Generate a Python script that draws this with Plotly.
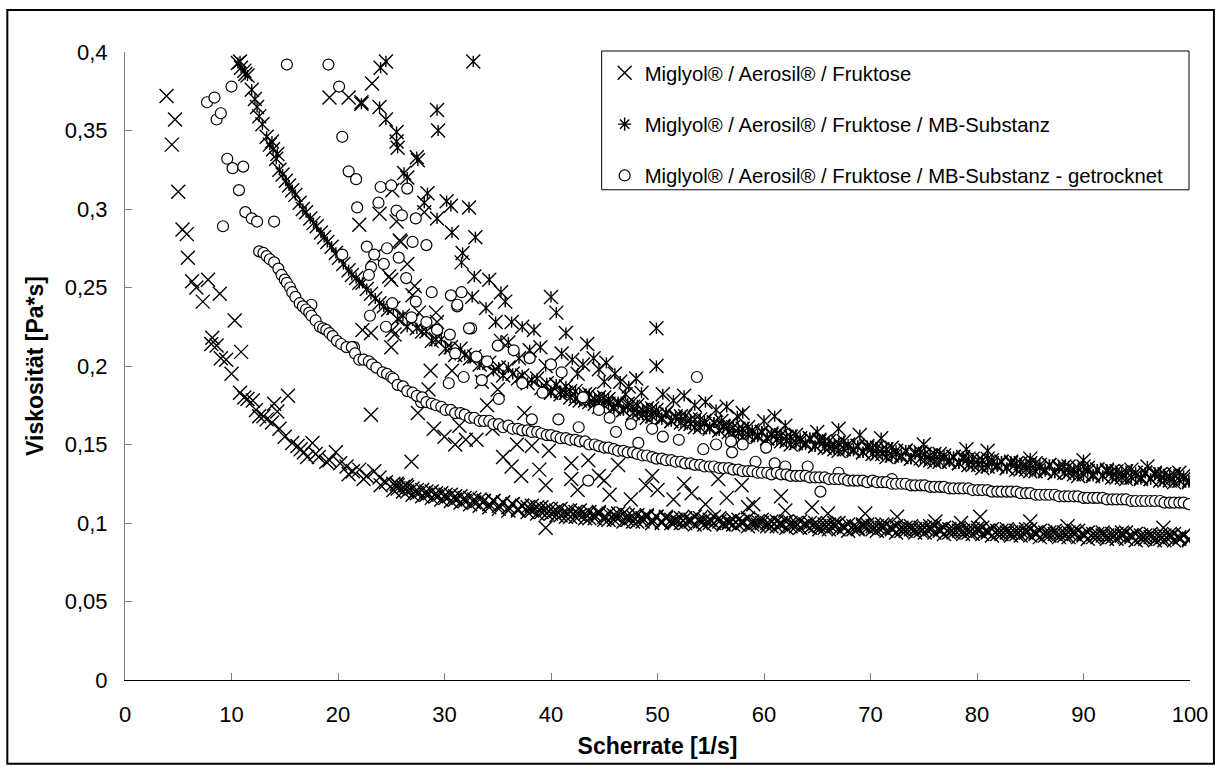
import plotly.graph_objects as go

# ---------------- data ----------------
# shared shear-rate grid of the dense parts (1/s)
grid_x = [25.2, 25.6, 26.1, 26.5, 27.0, 27.4, 27.9, 28.3, 28.8, 29.2,
          29.7, 30.1, 30.6, 31.0, 31.5, 31.9, 32.4, 32.8, 33.3, 33.7,
          34.2, 34.6, 35.1, 35.5, 36.0, 36.4, 36.9, 37.3, 37.8, 38.2,
          38.7, 39.1, 39.6, 40.0, 40.5, 40.9, 41.4, 41.8, 42.3, 42.7,
          43.2, 43.6, 44.1, 44.5, 45.0, 45.4, 45.9, 46.3, 46.8, 47.2,
          47.7, 48.1, 48.6, 49.0, 49.5, 49.9, 50.4, 50.8, 51.3, 51.7,
          52.2, 52.6, 53.1, 53.5, 54.0, 54.4, 54.9, 55.3, 55.8, 56.2,
          56.7, 57.1, 57.6, 58.0, 58.5, 58.9, 59.4, 59.8, 60.3, 60.7,
          61.2, 61.6, 62.1, 62.5, 63.0, 63.4, 63.9, 64.3, 64.8, 65.2,
          65.7, 66.1, 66.6, 67.0, 67.5, 67.9, 68.4, 68.8, 69.3, 69.7,
          70.2, 70.6, 71.1, 71.5, 72.0, 72.4, 72.9, 73.3, 73.8, 74.2,
          74.7, 75.1, 75.6, 76.0, 76.5, 76.9, 77.4, 77.8, 78.3, 78.7,
          79.2, 79.6, 80.1, 80.5, 81.0, 81.4, 81.9, 82.3, 82.8, 83.2,
          83.7, 84.1, 84.6, 85.0, 85.5, 85.9, 86.4, 86.8, 87.3, 87.7,
          88.2, 88.6, 89.1, 89.5, 90.0, 90.4, 90.9, 91.3, 91.8, 92.2,
          92.7, 93.1, 93.6, 94.0, 94.5, 94.9, 95.4, 95.8, 96.3, 96.7,
          97.2, 97.6, 98.1, 98.5, 99.0, 99.4, 99.9]
# return pass of the ramp (same shear rates)
s1_pass2_x = grid_x
s2_pass2_x = grid_x[33:]

# Series 1: Miglyol / Aerosil / Fruktose (x markers)
s1_band_y = [.125, .122, .123, .120, .122, .119, .121, .118, .120, .117,
             .119, .116, .118, .115, .117, .114, .116, .113, .115, .114,
             .112, .114, .111, .113, .110, .112, .109, .111, .110, .108,
             .110, .107, .109, .106, .108, .105, .107, .104, .107, .105,
             .106, .103, .105, .107, .104, .102, .105, .103, .106, .102,
             .104, .101, .103, .105, .102, .104, .101, .103, .100, .102,
             .103, .100, .102, .104, .101, .099, .102, .100, .103, .100,
             .101, .099, .102, .100, .098, .101, .099, .102, .100, .098,
             .101, .099, .097, .100, .098, .101, .099, .097, .100, .098,
             .099, .096, .098, .100, .097, .095, .098, .096, .099, .097,
             .098, .095, .097, .099, .096, .094, .097, .095, .098, .096,
             .097, .094, .096, .098, .095, .093, .096, .094, .097, .095,
             .096, .093, .095, .097, .094, .092, .095, .093, .096, .094,
             .095, .092, .094, .096, .093, .091, .094, .092, .095, .093,
             .094, .091, .093, .095, .092, .090, .093, .091, .094, .092,
             .093, .090, .092, .094, .091, .089, .092, .090, .093, .091,
             .092, .089, .091, .093, .090, .092, .089]
s1_band2_y = [.121, .124, .120, .123, .118, .121, .117, .120, .116, .119,
              .115, .118, .114, .117, .113, .116, .112, .115, .111, .114,
              .110, .114, .109, .113, .108, .112, .108, .111, .107, .111,
              .106, .110, .106, .109, .105, .109, .104, .108, .104, .108,
              .103, .107, .103, .106, .102, .106, .102, .106, .101, .105,
              .101, .105, .101, .104, .100, .104,
              .100, .104, .102, .101,
              .100, .103, .101, .099, .103, .102, .100, .104, .101, .099,
              .100, .102, .099, .101, .103, .099, .101, .100, .098, .101,
              .098, .100, .101, .098, .100, .097, .099, .100, .098, .096,
              .097, .099, .100, .096, .098, .099, .096, .097, .098, .099,
              .096, .098, .099, .095, .097, .098, .095, .097, .096, .094,
              .095, .097, .098, .094, .096, .097, .094, .096, .095, .093,
              .094, .096, .097, .093, .095, .096, .093, .095, .094, .092,
              .093, .095, .096, .092, .094, .095, .092, .094, .093, .091,
              .092, .094, .095, .091, .093, .094, .091, .093, .092, .090,
              .091, .093, .094, .090, .092, .093, .090, .092, .091, .089,
              .090, .092, .093, .089, .091, .092, .090, .091]
s1_scatter_x = [3.9, 4.4, 4.7, 5.0, 5.4, 5.8, 5.9, 6.3, 6.7, 7.3, 7.8, 8.9, 10.3, 8.2, 8.1,
                8.6, 9.5, 10.9, 10.0, 10.8, 11.5, 12.0, 12.6, 13.3, 14.0, 14.3, 15.3, 14.5,
                15.7, 16.2, 17.1, 17.6, 18.9, 19.8, 20.8, 22.0, 23.4, 24.5, 23.1, 13.0, 13.8,
                16.8, 18.2, 19.2, 20.2, 21.4, 22.7, 23.9, 12.3, 9.0, 11.2, 15.0, 16.5, 17.9,
                21.0, 22.4, 24.0, 25.5, 26.4,
                19.2, 21.0, 22.2, 23.2, 22.0, 23.9, 25.5, 25.8, 24.8, 23.4, 25.1, 25.9,
                28.1, 25.0, 27.2, 29.2, 29.3, 22.3, 23.1, 25.1, 25.3, 25.0, 27.6, 26.5, 27.0,
                28.7, 30.7, 31.4, 32.0, 33.0, 26.9, 30.0, 31.0, 29.0, 33.5, 35.0, 34.0, 36.3,
                38.9, 41.9, 44.5, 41.9, 39.5, 37.2, 46.3, 48.9, 53.2, 55.7, 57.9, 61.6, 38.2,
                39.8, 35.5, 36.8, 34.5, 37.5, 39.5, 42.5, 45.5, 47.5, 50.0, 51.5, 54.5, 56.5,
                59.0, 62.0, 64.5, 69.5, 76.1, 80.3, 85.0, 97.5, 43.5, 45.0, 49.5, 52.5, 58.5,
                66.0, 72.5, 78.5, 88.5, 27.5, 28.5]
s1_scatter_y = [.372, .341, .357, .311, .287, .284, .269, .254, .250, .241, .255, .246, .229, .218, .214,
                .213, .204, .209, .195, .183, .179, .178, .168, .166, .176, .171, .181, .160,
                .151, .149, .142, .151, .139, .145, .136, .134, .133, .126, .169, .168, .164,
                .145, .142, .140, .138, .133, .130, .129, .172, .205, .180, .155, .147, .144,
                .131, .128, .124, .125, .124,
                .371, .371, .368, .380, .290, .297, .292, .280, .257, .270, .312, .279,
                .298, .255, .251, .234, .228, .223, .221, .223, .220, .212, .234, .265, .245,
                .197, .197, .162, .153, .153, .139, .155, .150, .160, .190, .185, .175, .136,
                .134, .138, .130, .128, .124, .130, .137, .124, .119, .128, .124, .117, .149,
                .146, .142, .150, .160, .170, .097, .121, .118, .115, .121, .115, .112, .116,
                .112, .108, .110, .106, .101, .104, .101, .097, .140, .127, .130, .125, .110,
                .106, .104, .100, .098, .170, .185]

# Series 2: ... / MB-Substanz (star markers)
s2_start_x = [10.6, 10.9, 11.2, 11.5, 11.9, 12.2, 12.6, 12.9, 13.3, 13.6, 13.9, 14.2, 14.5,
              14.8, 15.1, 15.4, 15.7, 16.0, 16.4, 16.7, 17.0, 17.4, 17.7, 18.0, 18.4, 18.7,
              19.0, 19.4, 19.8, 20.1, 20.5, 21.0, 21.3, 21.7, 22.0, 22.3, 22.7, 23.1, 23.5,
              23.9, 24.3, 24.7, 10.8, 11.3, 12.4, 13.8, 14.3]
s2_start_y = [.393, .390, .388, .385, .376, .370, .359, .354, .346, .341, .338, .332, .325,
              .322, .318, .315, .312, .309, .304, .300, .298, .294, .291, .289, .285, .282,
              .279, .276, .272, .269, .265, .261, .258, .256, .253, .253, .249, .246, .243,
              .240, .238, .236, .394, .386, .365, .343, .335]
s2_band_y = [.237, .230, .232, .225, .229, .224, .222, .222, .216, .217,
             .217, .211, .212, .207, .211, .207, .205, .206, .201, .202,
             .202, .197, .199, .194, .199, .195, .192, .194, .189, .191,
             .192, .186, .189, .183, .188, .184, .183, .184, .179, .181,
             .182, .177, .179, .174, .180, .176, .174, .176, .172, .174,
             .174, .170, .172, .167, .173, .169, .167, .170, .165, .167,
             .168, .163, .166, .161, .166, .163, .161, .164, .159, .161,
             .162, .157, .160, .155, .161, .157, .156, .158, .154, .156,
             .157, .152, .155, .150, .156, .152, .151, .154, .149, .152,
             .152, .148, .150, .146, .152, .148, .147, .149, .145, .148,
             .148, .144, .147, .142, .148, .144, .143, .146, .141, .144,
             .145, .140, .143, .139, .144, .141, .140, .142, .138, .141,
             .141, .137, .140, .135, .141, .138, .137, .139, .135, .138,
             .138, .134, .137, .133, .138, .135, .134, .137, .132, .135,
             .136, .132, .134, .130, .136, .133, .131, .134, .130, .133,
             .133, .129, .132, .128, .134, .130, .129, .132, .128, .131,
             .131, .127, .130, .126, .132, .128, .127]
s2_band2_y = [.184, .188, .182, .187, .180, .184, .178,
              .178, .182, .176, .180, .175, .179, .173, .177, .172, .176,
              .170, .175, .169, .173, .168, .172,
              .166, .170, .165, .168,
              .164, .168, .163, .166, .161, .165, .160, .164, .159, .162,
              .158, .161, .157, .160, .156, .159, .155, .158, .154, .157,
              .153, .156, .152, .155, .151, .154, .150, .154, .149, .153,
              .148, .152, .147, .151, .147, .150, .146, .149, .145, .149,
              .144, .148, .144, .147, .143, .146, .142, .146, .141, .145,
              .141, .144, .140, .144, .139, .143, .139, .142, .138, .142,
              .137, .141, .137, .140, .136, .140, .136, .139, .135, .139,
              .134, .138, .134, .138, .133, .137, .133, .137, .132, .136,
              .132, .136, .131, .135, .131, .135, .130, .134, .130, .134,
              .129, .133, .129, .133, .129, .132, .128, .132, .128, .132,
              .127, .131, .127, .131, .127, .130, .126, .130]
s2_scatter_x = [24.0, 24.5, 23.9, 22.2, 24.5, 25.5, 25.5, 25.6, 29.3, 29.4, 32.7, 27.4, 27.5,
                26.2, 26.5, 28.4, 28.1, 30.2, 30.6, 32.3, 29.3, 30.7, 32.9, 31.7, 31.6, 32.8,
                34.2, 35.3, 35.7, 32.6, 33.9, 34.8, 36.3, 37.3, 35.3, 40.0, 40.5, 41.4, 38.4,
                49.9, 43.4, 49.9, 36.0, 38.0, 39.0, 41.0, 42.0, 43.0, 44.0, 44.5, 45.2, 46.0,
                46.5, 47.3, 48.0, 48.5, 50.5, 51.5, 52.5, 53.5, 54.5, 55.5, 56.5, 57.5, 58.0,
                37.0, 39.5, 42.5, 45.0, 47.0, 56.0, 62.0, 65.0, 67.0, 69.0, 71.0, 75.0, 79.0,
                81.0, 85.0, 90.0, 96.0, 60.0, 61.0]
s2_scatter_y = [.390, .394, .365, .367, .357, .349, .343, .339, .363, .350, .394, .333, .331,
                .323, .320, .310, .304, .305, .302, .301, .294, .285, .282, .272, .266, .257,
                .255, .247, .241, .244, .237, .228, .228, .225, .216, .244, .234, .221, .223,
                .224, .214, .200, .215, .210, .212, .208, .204, .201, .205, .198, .202, .195,
                .190, .187, .192, .183, .182, .178, .181, .175, .177, .172, .174, .168, .170,
                .205, .200, .195, .190, .182, .165, .162, .158, .160, .156, .154, .150, .147,
                .146, .141, .140, .136, .165, .168]

# Series 3: ... / MB-Substanz - getrocknet (open circles)
s3_start_x = [12.6, 13.0, 13.3, 13.6, 14.0, 14.4, 14.7, 15.0, 15.2, 15.5, 15.7, 16.0, 16.4,
              16.7, 17.0, 17.3, 17.5, 17.9, 18.3, 18.6, 18.9, 19.2, 19.5, 19.9, 20.3, 20.8,
              21.3, 21.6, 22.0, 22.4, 22.9, 23.2, 23.6, 24.2, 24.6, 25.0]
s3_start_y = [.273, .272, .270, .268, .266, .262, .258, .255, .253, .250, .247, .244, .240,
              .238, .236, .234, .232, .229, .225, .224, .223, .221, .219, .216, .214, .212,
              .212, .208, .204, .204, .203, .201, .199, .196, .195, .193]
s3_band_y = [.192, .188, .187, .184, .183, .181, .180, .177, .176, .175,
             .174, .172, .172, .170, .170, .169, .167, .167, .165, .165,
             .165, .163, .163, .161, .162, .160, .160, .159, .159, .158,
             .158, .157, .156, .156, .155, .154, .154, .153, .153, .152,
             .152, .150, .150, .149, .148, .148, .147, .146, .146, .145,
             .145, .144, .143, .143, .142, .141, .141, .140, .140, .139,
             .139, .138, .138, .137, .137, .136, .136, .136, .135, .135,
             .135, .134, .134, .133, .133, .133, .132, .132, .132, .131,
             .132, .131, .131, .130, .130, .130, .130, .129, .129, .129,
             .129, .128, .128, .128, .128, .127, .127, .127, .127, .126,
             .127, .126, .126, .126, .125, .125, .125, .125, .124, .124,
             .124, .124, .123, .123, .123, .123, .122, .122, .122, .122,
             .122, .121, .121, .121, .121, .120, .120, .120, .120, .120,
             .120, .119, .119, .119, .118, .118, .118, .118, .118, .117,
             .117, .117, .117, .117, .116, .116, .116, .116, .116, .115,
             .115, .115, .115, .115, .114, .114, .114, .114, .114, .114,
             .114, .113, .113, .113, .113, .113, .112]
s3_scatter_x = [15.2, 19.1, 20.1, 10.0, 7.7, 8.4, 8.6, 9.0, 20.4, 9.6, 10.1, 11.1, 10.7, 9.2,
                11.3, 11.9, 12.4, 14.0, 21.0, 21.7, 21.8, 23.8, 24.0, 25.0, 25.5, 24.6, 25.7,
                22.7, 23.4, 23.1, 22.9, 20.4, 26.5, 27.3, 27.0, 28.3, 26.4, 28.8, 30.6, 31.6,
                31.2, 27.3, 25.1, 26.9, 28.3, 29.3, 32.5, 21.5, 17.5, 32.3, 31.2, 53.7, 27.8,
                43.5, 60.2, 59.2, 62.0, 64.1, 65.3, 52.0, 56.9, 58.0, 54.3, 24.3, 26.0, 30.5,
                31.0, 33.0, 34.0, 35.0, 36.5, 38.0, 40.0, 41.0, 33.5, 30.4, 37.3, 35.1, 38.2,
                40.7, 42.6, 46.1, 48.2, 31.8, 39.2, 43.0, 44.5, 45.5, 47.5, 49.5, 50.5, 55.5,
                57.0, 61.0, 67.0, 72.0, 23.0, 24.5]
s3_scatter_y = [.392, .392, .378, .378, .368, .371, .357, .361, .346, .332, .326, .327, .312, .289,
                .298, .294, .292, .292, .324, .319, .301, .304, .314, .315, .299, .275, .269,
                .276, .271, .263, .258, .271, .313, .294, .279, .277, .256, .247, .245, .247,
                .238, .241, .240, .231, .228, .223, .224, .212, .239, .224, .239, .193, .177,
                .127, .148, .139, .136, .136, .120, .153, .152, .150, .147, .265, .296, .220,
                .208, .206, .203, .213, .210, .205, .201, .196, .191, .189, .189, .179, .166,
                .166, .161, .158, .151, .193, .183, .180, .172, .167, .163, .160, .155, .150,
                .145, .138, .132, .128, .232, .225]

names = ["Miglyol® / Aerosil® / Fruktose",
         "Miglyol® / Aerosil® / Fruktose / MB-Substanz",
         "Miglyol® / Aerosil® / Fruktose / MB-Substanz - getrocknet"]

x_ticks = [0, 10, 20, 30, 40, 50, 60, 70, 80, 90, 100]
y_ticks = [0, 0.05, 0.1, 0.15, 0.2, 0.25, 0.3, 0.35, 0.4]

# ---------------- figure ----------------
FONT = "Liberation Sans, Arial, sans-serif"
W, H = 1220, 767
L, R, T, B = 125, 27, 52, 86
PW, PH = W - L - R, H - T - B


def px_x(p):
    return (p - L) / PW


def px_y(p):
    return (H - B - p) / PH


s1x = s1_scatter_x + grid_x + s1_pass2_x
s1y = s1_scatter_y + s1_band_y + s1_band2_y
s2x = s2_start_x + s2_scatter_x + grid_x + s2_pass2_x
s2y = s2_start_y + s2_scatter_y + s2_band_y + s2_band2_y
s3x = s3_scatter_x + s3_start_x + grid_x
s3y = s3_scatter_y + s3_start_y + s3_band_y

LW = 1.4
fig = go.Figure()
fig.add_trace(go.Scatter(
    x=s1x, y=s1y, mode="markers", name=names[0], legendgroup="g1",
    marker=dict(symbol="x-thin-open", size=14, color="black",
                line=dict(color="black", width=LW))))
# legend entry of series 2 (star symbol)
fig.add_trace(go.Scatter(
    x=[None], y=[None], mode="markers", name=names[1], legendgroup="g2",
    marker=dict(symbol="asterisk-open", size=11, color="black",
                line=dict(color="black", width=LW))))
fig.add_trace(go.Scatter(
    x=s2x, y=s2y, mode="markers", showlegend=False, legendgroup="g2",
    marker=dict(symbol="x-thin-open", size=14, color="black",
                line=dict(color="black", width=LW))))
fig.add_trace(go.Scatter(
    x=s2x, y=s2y, mode="markers", showlegend=False, legendgroup="g2",
    marker=dict(symbol="line-ns-open", size=8, color="black",
                line=dict(color="black", width=LW))))
fig.add_trace(go.Scatter(
    x=s3x, y=s3y, mode="markers", name=names[2], legendgroup="g3",
    marker=dict(symbol="circle", size=11, color="white",
                line=dict(color="black", width=1.2))))

axis_common = dict(showgrid=False, zeroline=False, showline=True, ticks="inside",
                   ticklen=7, tickwidth=1, tickcolor="#808080",
                   tickfont=dict(family=FONT, size=22, color="black"))

fig.update_layout(
    width=W, height=H,
    margin=dict(l=L, r=R, t=T, b=B, pad=0),
    paper_bgcolor="white", plot_bgcolor="white",
    separators=", ",
    font=dict(family=FONT, color="black"),
    xaxis=dict(range=[0, 100], tickvals=x_ticks, linecolor="black", linewidth=1.3,
               ticklabelstandoff=14,
               title=dict(text="Scherrate [1/s]", standoff=12,
                          font=dict(family=FONT, size=23, weight="bold")),
               **axis_common),
    yaxis=dict(range=[0, 0.4], tickvals=y_ticks, linecolor="#808080", linewidth=1,
               ticklabelstandoff=12,
               title=dict(text="Viskosität [Pa*s]", standoff=14,
                          font=dict(family=FONT, size=23, weight="bold")),
               **axis_common),
    legend=dict(x=px_x(606), y=px_y(53), xanchor="left", yanchor="top",
                bgcolor="rgba(0,0,0,0)", borderwidth=0,
                font=dict(family=FONT, size=20.3, color="black"),
                traceorder="grouped", tracegroupgap=22, itemwidth=30),
    shapes=[dict(type="rect", xref="paper", yref="paper",
                 x0=px_x(7), x1=px_x(1217), y0=px_y(10), y1=px_y(765),
                 line=dict(color="black", width=2), fillcolor="rgba(0,0,0,0)",
                 layer="below"),
            dict(type="rect", xref="paper", yref="paper",
                 x0=px_x(603), x1=px_x(1192), y0=px_y(51), y1=px_y(190),
                 line=dict(color="black", width=1), fillcolor="white",
                 layer="above")],
)

fig.write_html("out.html")
